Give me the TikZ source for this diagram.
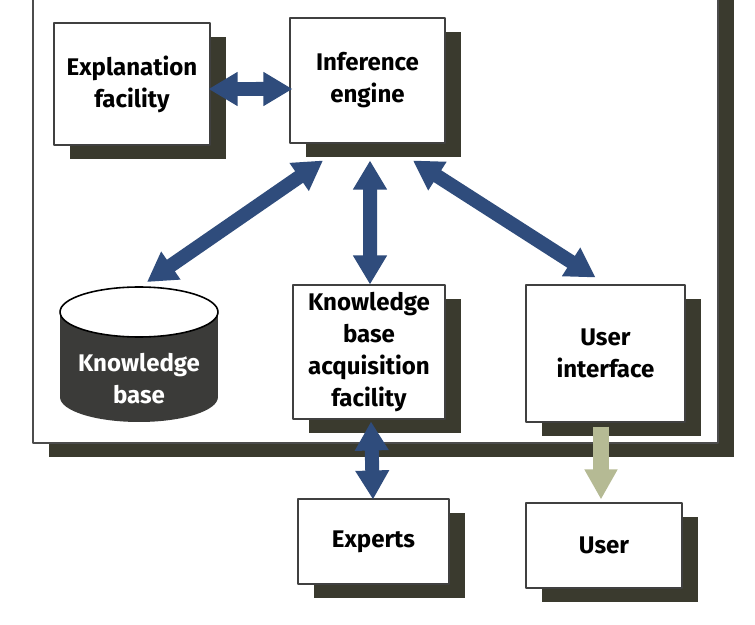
\documentclass[tikz,border=0pt]{standalone}
\usepackage{fontspec}
\newfontfamily\diagfont{Fira Sans}
\usetikzlibrary{arrows.meta,calc,shadows,positioning}
\definecolor{navy}{HTML}{2F4C7C}
\definecolor{sage}{HTML}{B5BA94}
\definecolor{shadowgray}{HTML}{3A3A2E}
\definecolor{drum}{HTML}{3B3B39}
\tikzset{
  box/.style={draw=black!75,line width=0.6pt,fill=white,inner sep=0pt,align=center,
    font=\diagfont\fontsize{13.7}{18.2}\selectfont\bfseries,
    drop shadow={shadow xshift=0.32cm,shadow yshift=-0.28cm,opacity=1,fill=shadowgray}},
  link/.style={navy,line width=0.28cm,{Triangle[length=0.58cm,width=0.64cm]}-{Triangle[length=0.58cm,width=0.64cm]}},
  feed/.style={sage,line width=0.31cm,-{Triangle[length=0.6cm,width=0.62cm]}}
}
\begin{document}
\begin{tikzpicture}[x=0.02cm,y=-0.02cm,line join=round]
\useasboundingbox (0,0) rectangle (755,625);
% outer frame
\fill[shadowgray] (49,-20) rectangle (734,457);
\draw[black!70,fill=white,line width=0.6pt] (33,-20) rectangle (718,443);
% boxes
\node[box,minimum width=3.12cm,minimum height=2.44cm] (ef) at (132,84) {Explanation\\facility};
\node[box,minimum width=3.1cm,minimum height=2.5cm] (ie) at (367.5,80.5) {Inference\\engine};
\node[box,minimum width=3.04cm,minimum height=2.68cm] (kbaf) at (369,352) {Knowledge\\base\\acquisition\\facility};
\node[box,minimum width=3.18cm,minimum height=2.74cm] (ui) at (605.5,353.5) {User\\interface};
\node[box,minimum width=3.02cm,minimum height=1.7cm] (ex) at (373.5,541.5) {Experts};
\node[box,minimum width=3.12cm,minimum height=1.7cm] (us) at (604,545.5) {User};
% knowledge base drum
\fill[drum] (60,312) -- (60,397) arc[start angle=180,end angle=360,x radius=1.58cm,y radius=0.5cm] -- (218,312) -- cycle;
\draw[fill=white,line width=0.9pt] (139,312) ellipse [x radius=1.58cm,y radius=0.5cm];
\node[text=white,align=center,font=\diagfont\fontsize{13.7}{18.2}\selectfont\bfseries] (kb) at (139,379) {Knowledge\\base};
\coordinate (kb-t) at (147,282);
% arrow ends
\coordinate (ef-r) at ($(ef.east)+(-2,5)$);
\coordinate (ie-l) at ($(ie.west)+(3,8.5)$);
\coordinate (ie-a) at ($(ie.south)+(-44.5,17)$);
\coordinate (ie-b) at ($(ie.south)+(2.5,17)$);
\coordinate (ie-c) at ($(ie.south)+(45.5,17)$);
\coordinate (kbaf-t) at ($(kbaf.north)+(1,0)$);
\coordinate (ui-t) at ($(ui.north)+(-10,-7)$);
\coordinate (kbaf-b) at ($(kbaf.south)+(2,2)$);
\coordinate (ex-t) at ($(ex.north)+(-0.5,1)$);
\coordinate (ui-b) at ($(ui.south)+(-4.5,4)$);
\coordinate (us-t) at ($(us.north)+(-3,-3)$);
\foreach \a/\b in {ef-r/ie-l,ie-a/kb-t,ie-b/kbaf-t,ie-c/ui-t,kbaf-b/ex-t}{\draw[link] (\a) -- (\b);}
\draw[feed] (ui-b) -- (us-t);
\end{tikzpicture}
\end{document}
